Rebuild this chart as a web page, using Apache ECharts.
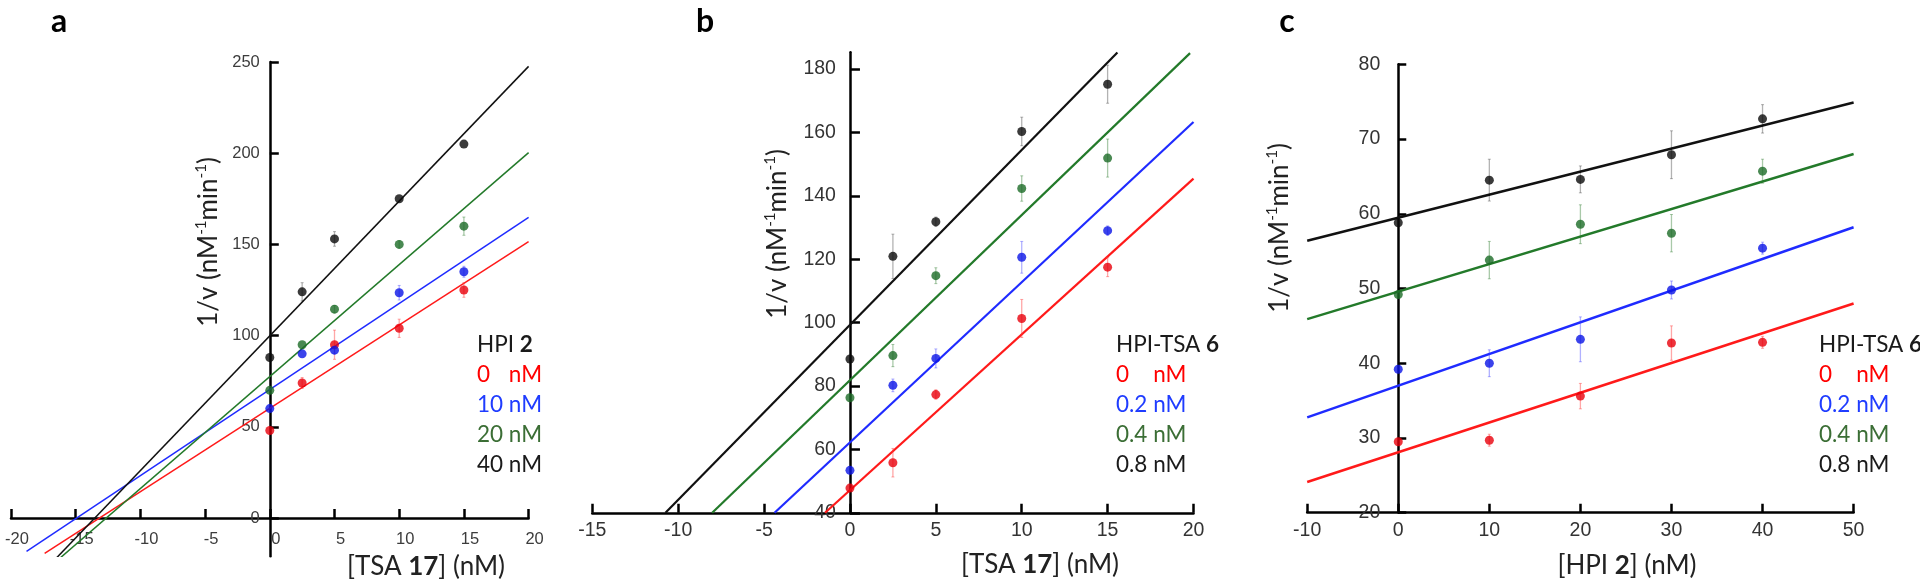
<!DOCTYPE html>
<html><head><meta charset="utf-8">
<script src="https://cdn.jsdelivr.net/npm/echarts@6/dist/echarts.min.js"></script>
<style>html,body{margin:0;padding:0;background:#fff}#chart{width:1920px;height:581px}</style>
</head><body><div id="chart"></div>
<script>
// ---------- Panel a : [TSA 17] vs 1/v at several [HPI 2] ----------
const xA = [0, 2.5, 5, 10, 15];
const a_0nM  = [48, 74, 95, 104, 125];
const a_10nM = [60, 90, 92, 123.5, 135];
const a_20nM = [70, 95, 114.5, 150, 160];
const a_40nM = [88, 124, 153, 175, 205];
const errA_0nM  = [0, 3, 8, 5, 4];
const errA_10nM = [0, 0, 2, 4, 3];
const errA_20nM = [0, 0, 2, 2, 5];
const errA_40nM = [0, 5, 4, 0, 0];
const fitA_0nM  = [[-17.4, -19.4], [20, 151.5]];
const fitA_10nM = [[-18.8, -18.3], [20, 164.8]];
const fitA_20nM = [[-16.2, -21.9], [20, 200.3]];
const fitA_40nM = [[-16.5, -22.0], [20, 247.6]];
const ticksAX = [-20, -15, -10, -5, 0, 5, 10, 15, 20];
const ticksAY = [0, 50, 100, 150, 200, 250];
const legendA = ['0', '10', '20', '40'];

// ---------- Panel b : [TSA 17] vs 1/v at several [HPI-TSA 6] ----------
const xB = [0, 2.5, 5, 10, 15];
const b_0nM  = [47.8, 55.8, 77.3, 101.3, 117.5];
const b_02nM = [53.4, 80.2, 88.7, 120.6, 129];
const b_04nM = [76.3, 89.6, 114.8, 142.3, 151.9];
const b_08nM = [88.5, 120.9, 131.8, 160.3, 175.2];
const errB_0nM  = [0, 4.5, 1.5, 6, 3];
const errB_02nM = [0, 2, 3, 5, 1.5];
const errB_04nM = [0, 3.5, 2.5, 4, 6];
const errB_08nM = [0, 7, 1.5, 4.5, 6];
const fitB_0nM  = [[-1.45, 40], [20, 145.4]];
const fitB_02nM = [[-4.39, 40], [20, 163.3]];
const fitB_04nM = [[-8.02, 40], [19.8, 185]];
const fitB_08nM = [[-10.74, 40], [15.57, 185.2]];
const ticksBX = [-15, -10, -5, 0, 5, 10, 15, 20];
const ticksBY = [40, 60, 80, 100, 120, 140, 160, 180];
const legendB = ['0', '0.2', '0.4', '0.8'];

// ---------- Panel c : [HPI 2] vs 1/v at several [HPI-TSA 6] ----------
const xC = [0, 10, 20, 30, 40];
const c_0nM  = [29.5, 29.7, 35.6, 42.7, 42.8];
const c_02nM = [39.2, 40.0, 43.2, 49.8, 55.4];
const c_04nM = [49.2, 53.8, 58.6, 57.4, 65.7];
const c_08nM = [58.8, 64.5, 64.6, 67.9, 72.7];
const errC_0nM  = [0, 0.8, 1.7, 2.3, 0.8];
const errC_02nM = [0, 1.8, 3, 1.2, 0.8];
const errC_04nM = [0, 2.5, 2.6, 2.5, 1.6];
const errC_08nM = [0, 2.8, 1.8, 3.2, 1.9];
const fitC_0nM  = [[-10, 24.1], [50, 48.0]];
const fitC_02nM = [[-10, 32.75], [50, 58.2]];
const fitC_04nM = [[-10, 45.9], [50, 68.0]];
const fitC_08nM = [[-10, 56.4], [50, 74.9]];
const ticksCX = [-10, 0, 10, 20, 30, 40, 50];
const ticksCY = [20, 30, 40, 50, 60, 70, 80];
const legendC = ['0', '0.2', '0.4', '0.8'];

// ---------- styling / layout ----------
const PT = { red: '#e8000b', blue: '#0a14e6', green: '#1c6b27', black: '#0a0a0a' };
const LN = { red: '#ff1a1a', blue: '#1f2bff', green: '#237a2a', black: '#111111' };
const ER = { red: 'rgba(255,60,60,0.45)', blue: 'rgba(60,60,255,0.4)', green: 'rgba(40,120,40,0.4)', black: 'rgba(0,0,0,0.3)' };
const LG = { red: '#ff0000', blue: '#1f3cff', green: '#3b6e35', black: '#1a1a1a' };
const TEXT_FONT = 'Lato';
const TICK_FONT = 'Liberation Sans';

const GRIDS = [
  { left: 11, top: 62, width: 517.6, height: 494.3, xr: [-20, 20], yr: [-21, 250] },
  { left: 592.3, top: 52.2, width: 601.2, height: 460.6, xr: [-15, 20], yr: [40, 185.3] },
  { left: 1307.2, top: 64.3, width: 546.4, height: 448.4, xr: [-10, 50], yr: [20, 80] }
];
// pixel distance of the y axis (x = 0) from the grid's left edge, and of the x axis (y = 0) from its bottom
function yAxisShift(g) { const G = GRIDS[g]; return Math.max(0, (0 - G.xr[0]) / (G.xr[1] - G.xr[0]) * G.width); }
function xAxisShift(g) { const G = GRIDS[g]; return Math.max(0, (0 - G.yr[0]) / (G.yr[1] - G.yr[0]) * G.height); }

function scatter(xs, ys, c, g) {
  return { type: 'scatter', xAxisIndex: g, yAxisIndex: g, data: xs.map((x, i) => [x, ys[i]]),
    symbolSize: 9, itemStyle: { color: PT[c] }, z: 6, silent: true };
}
function fit(pts, c, g, w) {
  return { type: 'line', xAxisIndex: g, yAxisIndex: g, data: pts, showSymbol: false, symbol: 'none',
    lineStyle: { color: LN[c], width: w }, z: 3, silent: true, clip: true };
}
function errs(xs, ys, es, c, g) {
  return { type: 'custom', xAxisIndex: g, yAxisIndex: g, z: 4, silent: true,
    data: xs.map((x, i) => [x, ys[i], es[i]]), encode: { x: 0, y: 1 },
    renderItem: function (params, api) {
      const x = api.value(0), y = api.value(1), e = api.value(2);
      if (!e) return null;
      const p1 = api.coord([x, y - e]), p2 = api.coord([x, y + e]);
      return { type: 'group', children: [
        { type: 'line', shape: { x1: p1[0], y1: p1[1], x2: p2[0], y2: p2[1] }, style: { stroke: ER[c], lineWidth: 1.3 } },
        { type: 'line', shape: { x1: p1[0] - 1.5, y1: p1[1], x2: p1[0] + 1.5, y2: p1[1] }, style: { stroke: ER[c], lineWidth: 1 } },
        { type: 'line', shape: { x1: p2[0] - 1.5, y1: p2[1], x2: p2[0] + 1.5, y2: p2[1] }, style: { stroke: ER[c], lineWidth: 1 } }
      ] };
    } };
}
function xAxisCfg(g, ticks, fs, color, margin, pad) {
  return { gridIndex: g, type: 'value', min: GRIDS[g].xr[0], max: GRIDS[g].xr[1], position: 'bottom',
    offset: -xAxisShift(g),
    axisLine: { onZero: false, lineStyle: { color: '#000', width: 2.5 } },
    axisTick: { inside: true, length: 9, customValues: ticks, lineStyle: { color: '#000', width: 2.5 } },
    axisLabel: { customValues: ticks, fontFamily: TICK_FONT, fontSize: fs, color: color, margin: margin, padding: pad,
      hideOverlap: false },
    splitLine: { show: false } };
}
function yAxisCfg(g, ticks, fs, color, margin, pad, tl) {
  return { gridIndex: g, type: 'value', min: GRIDS[g].yr[0], max: GRIDS[g].yr[1], position: 'left',
    offset: -yAxisShift(g),
    axisLine: { onZero: false, lineStyle: { color: '#000', width: 2.5 } },
    axisTick: { inside: true, length: tl, customValues: ticks, lineStyle: { color: '#000', width: 2.5 } },
    axisLabel: { customValues: ticks, fontFamily: TICK_FONT, fontSize: fs, color: color, margin: margin, padding: pad,
      hideOverlap: false },
    splitLine: { show: false } };
}

const series = [
  fit(fitA_0nM, 'red', 0, 1.5), fit(fitA_10nM, 'blue', 0, 1.5), fit(fitA_20nM, 'green', 0, 1.5), fit(fitA_40nM, 'black', 0, 1.5),
  errs(xA, a_0nM, errA_0nM, 'red', 0), errs(xA, a_10nM, errA_10nM, 'blue', 0), errs(xA, a_20nM, errA_20nM, 'green', 0), errs(xA, a_40nM, errA_40nM, 'black', 0),
  scatter(xA, a_0nM, 'red', 0), scatter(xA, a_10nM, 'blue', 0), scatter(xA, a_20nM, 'green', 0), scatter(xA, a_40nM, 'black', 0),

  fit(fitB_0nM, 'red', 1, 2.2), fit(fitB_02nM, 'blue', 1, 2.2), fit(fitB_04nM, 'green', 1, 2.2), fit(fitB_08nM, 'black', 1, 2.2),
  errs(xB, b_0nM, errB_0nM, 'red', 1), errs(xB, b_02nM, errB_02nM, 'blue', 1), errs(xB, b_04nM, errB_04nM, 'green', 1), errs(xB, b_08nM, errB_08nM, 'black', 1),
  scatter(xB, b_0nM, 'red', 1), scatter(xB, b_02nM, 'blue', 1), scatter(xB, b_04nM, 'green', 1), scatter(xB, b_08nM, 'black', 1),

  fit(fitC_0nM, 'red', 2, 2.5), fit(fitC_02nM, 'blue', 2, 2.5), fit(fitC_04nM, 'green', 2, 2.5), fit(fitC_08nM, 'black', 2, 2.5),
  errs(xC, c_0nM, errC_0nM, 'red', 2), errs(xC, c_02nM, errC_02nM, 'blue', 2), errs(xC, c_04nM, errC_04nM, 'green', 2), errs(xC, c_08nM, errC_08nM, 'black', 2),
  scatter(xC, c_0nM, 'red', 2), scatter(xC, c_02nM, 'blue', 2), scatter(xC, c_04nM, 'green', 2), scatter(xC, c_08nM, 'black', 2)
];

// ---------- texts ----------
const LEG_FS = 22.5, TITLE_FS = 26, LETTER_FS = 32;
const mctx = document.createElement('canvas').getContext('2d');
mctx.font = LEG_FS + 'px ' + TEXT_FONT;
function legend(x, head, headBold, vals, widest) {
  const colors = ['red', 'blue', 'green', 'black'];
  const rowsY = [345, 375, 405, 435, 465];
  const zw = mctx.measureText(widest + ' ').width;
  const out = [{ type: 'text', x: x, y: rowsY[0], style: { text: head + ' {b|' + headBold + '}', fill: LG.black,
    font: LEG_FS + 'px ' + TEXT_FONT, verticalAlign: 'middle', align: 'left',
    rich: { b: { fontWeight: 'bold', fontSize: LEG_FS, fontFamily: TEXT_FONT, fill: LG.black } } } }];
  vals.forEach((v, i) => {
    const txt = (v === '0') ? '{z|0}{n|nM}' : '{n|' + v + ' nM}';
    out.push({ type: 'text', x: x, y: rowsY[i + 1], style: { text: txt, fill: LG[colors[i]],
      font: LEG_FS + 'px ' + TEXT_FONT, verticalAlign: 'middle', align: 'left',
      rich: { z: { width: zw, fontSize: LEG_FS, fontFamily: TEXT_FONT, fill: LG[colors[i]] },
              n: { fontSize: LEG_FS, fontFamily: TEXT_FONT, fill: LG[colors[i]] } } } });
  });
  return out;
}
function xTitle(x, y, pre, bold, post) {
  return { type: 'text', x: x, y: y, style: { text: pre + '{b|' + bold + '}' + post, fill: '#222',
    font: TITLE_FS + 'px ' + TEXT_FONT, align: 'center', verticalAlign: 'middle',
    rich: { b: { fontWeight: 'bold', fontSize: TITLE_FS, fontFamily: TEXT_FONT, fill: '#222' } } } };
}
function yTitle(x, y) {
  return { type: 'text', x: x, y: y, rotation: Math.PI / 2, style: {
    text: '{m|1/v (nM}{s|-1}{m|min}{s|-1}{m|)}', fill: '#222', align: 'center', verticalAlign: 'middle',
    rich: { m: { fontSize: TITLE_FS, fontFamily: TEXT_FONT, fill: '#222', lineHeight: 30 },
            s: { fontSize: 15, fontFamily: TEXT_FONT, fill: '#222', verticalAlign: 'top', lineHeight: 30 } } } };
}
function letter(x, y, t) {
  return { type: 'text', x: x, y: y, style: { text: t, fill: '#000', font: 'bold ' + LETTER_FS + 'px ' + TEXT_FONT,
    align: 'center', verticalAlign: 'middle' } };
}

const graphic = [].concat(
  [letter(59, 22, 'a'), letter(705, 22, 'b'), letter(1287, 22, 'c')],
  [xTitle(426, 567, '[TSA ', '17', '] (nM)'), xTitle(1040, 565, '[TSA ', '17', '] (nM)'), xTitle(1627, 566, '[HPI ', '2', '] (nM)')],
  [yTitle(209, 242), yTitle(777.5, 234), yTitle(1280, 228)],
  legend(477, 'HPI', '2', legendA, '10'),
  legend(1116, 'HPI-TSA', '6', legendB, '0.2'),
  legend(1819, 'HPI-TSA', '6', legendC, '0.2')
);

const option = {
  backgroundColor: '#ffffff',
  animation: false,
  grid: GRIDS.map(G => ({ left: G.left, top: G.top, width: G.width, height: G.height, containLabel: false })),
  xAxis: [
    xAxisCfg(0, ticksAX, 16.5, '#3c3c3c', 13, [0, 0, 0, 12]),
    xAxisCfg(1, ticksBX, 19.5, '#333', 8, 0),
    xAxisCfg(2, ticksCX, 19.5, '#333', 8, 0)
  ],
  yAxis: [
    yAxisCfg(0, ticksAY, 16.5, '#3c3c3c', 10, [0, 0, 12, 0], 9),
    yAxisCfg(1, ticksBY, 19.5, '#333', 14, [0, 0, 8, 0], 10),
    yAxisCfg(2, ticksCY, 19.5, '#333', 18, [0, 0, 22, 0], 8)
  ],
  graphic: graphic,
  series: series
};
const chart = echarts.init(document.getElementById('chart'), null, { renderer: 'canvas' });
chart.setOption(option);
</script></body></html>
